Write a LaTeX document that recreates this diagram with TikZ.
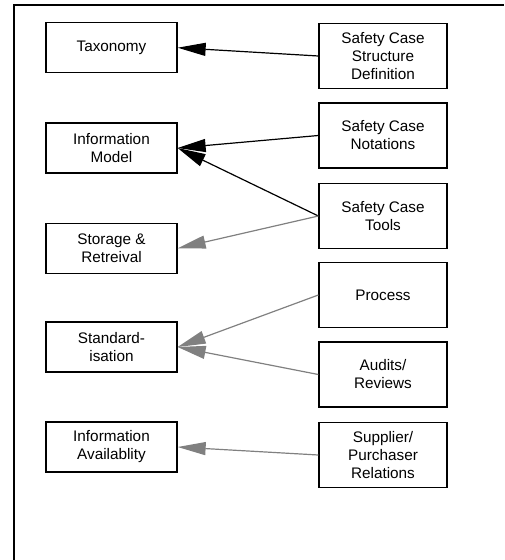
\documentclass[tikz,border=0pt]{standalone}
\usepackage{fontspec}
\setmainfont{Liberation Sans}
\usetikzlibrary{arrows.meta}
\definecolor{arrowgray}{RGB}{128,128,128}
\begin{document}
\begin{tikzpicture}[x=1pt, y=-1pt,
    every node/.style={font=\fontsize{15.3}{18}\selectfont, align=center},
    lbox/.style={draw, rectangle, line width=1.3pt, minimum width=131pt, minimum height=50pt, inner sep=0pt},
    rbox/.style={draw, rectangle, line width=1.3pt, minimum width=128pt, minimum height=65pt, inner sep=0pt},
    blk/.style={-{Triangle[length=28pt, width=13pt]}, line width=1.2pt},
    gry/.style={-{Triangle[length=28pt, width=13pt]}, line width=1.2pt, arrowgray}]
    \useasboundingbox (0,0) rectangle (504,560);
    % frame
    \draw[line width=2pt] (14,560) -- (14,5) -- (504,5);

    \node[lbox] (tax) at (111.5,47.7) {Taxonomy};
    \node[lbox] (im) at (111.5,148) {Information\\Model};
    \node[lbox] (sr) at (111.5,248.3) {Storage \&\\Retreival};
    \node[lbox] (std) at (111.5,347) {Standard-\\isation};
    \node[lbox] (ia) at (111.5,447) {Information\\Availablity};

    \node[rbox] (scsd) at (383,56) {Safety Case\\Structure\\Definition};
    \node[rbox] (scn) at (383,135.5) {Safety Case\\Notations};
    \node[rbox] (sct) at (383,216) {Safety Case\\Tools};
    \node[rbox] (proc) at (383,295) {Process};
    \node[rbox] (aud) at (383,374.5) {Audits/\\Reviews};
    \node[rbox] (sup) at (383,455) {Supplier/\\Purchaser\\Relations};

    \draw[blk] (scsd.west) -- (tax.east);
    \draw[blk] (scn.west) -- (im.east);
    \draw[blk] (sct.west) -- (im.east);
    \draw[gry] (sct.west) -- (sr.east);
    \draw[gry] (proc.west) -- (std.east);
    \draw[gry] (aud.west) -- (std.east);
    \draw[gry] (sup.west) -- (ia.east);
\end{tikzpicture}
\end{document}
